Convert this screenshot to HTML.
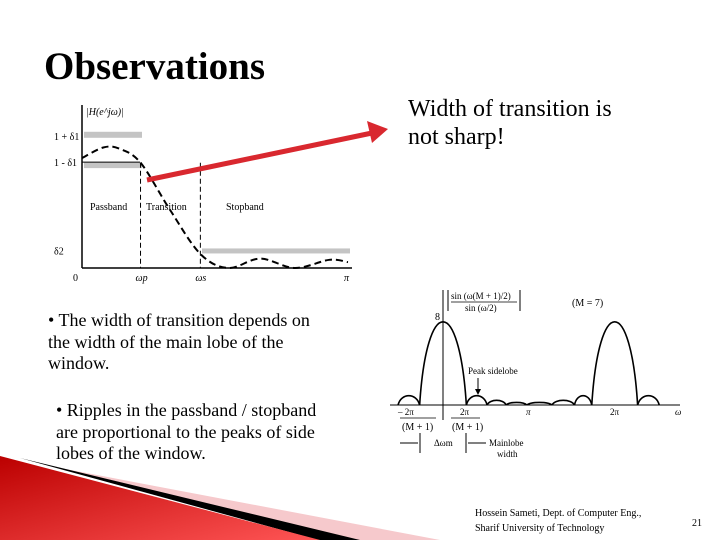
<!DOCTYPE html>
<html><head><meta charset="utf-8"><style>
body{margin:0;background:#fff}
#s{position:relative;width:720px;height:540px;overflow:hidden;background:#fff;font-family:"Liberation Serif",serif;color:#000}
.t{position:absolute;white-space:nowrap}
</style></head><body>
<div id="s">
<svg width="720" height="540" style="position:absolute;left:0;top:0">
 <defs><linearGradient id="rg" x1="0" y1="0" x2="1" y2="1"><stop offset="0" stop-color="#b00"/><stop offset="1" stop-color="#f55"/></linearGradient></defs>
 <g>
  <polygon points="60,468 440,540 330,540" fill="#f6c9cc"/>
  <polygon points="20,458 360,540 318,540" fill="#000"/>
  <polygon points="0,456 320,540 0,540" fill="url(#rg)"/>
 </g>
 <g id="top"></g>
 <g id="bot"></g>
 <g>
  <line x1="147" y1="180" x2="372" y2="133" stroke="#d9282f" stroke-width="5"/>
  <polygon points="388,129 367,121 372,143" fill="#d9282f"/>
 </g>
</svg>
<div class="t" style="left:44px;top:44px;font-size:39px;font-weight:bold">Observations</div>
<div class="t" style="left:408px;top:95px;font-size:24px;line-height:28px">Width of transition is<br>not sharp!</div>
<div class="t" style="left:48px;top:310px;font-size:18px;line-height:21.5px">• The width of transition depends on<br>the width of the main lobe of the<br>window.</div>
<div class="t" style="left:56px;top:400px;font-size:18px;line-height:21.5px">• Ripples in the passband / stopband<br>are proportional to the peaks of side<br>lobes of the window.</div>
<div class="t" style="left:475px;top:506px;font-size:10px;line-height:15px">Hossein Sameti, Dept. of Computer Eng.,<br>Sharif University of Technology</div>
<div class="t" style="left:692px;top:518px;font-size:10px">21</div>
</div>
<script>
// top chart data (x in units of pi, y magnitude)
const respX=[0,0.08,0.14,0.22,0.33,0.445,0.55,0.67,0.8,0.93,1.0];
const respY=[0.94,1.03,1.02,0.9,0.5,0.12,0.0,0.08,0.0,0.07,0.05];
const bandLabels=["Passband","Transition","Stopband"];
const yTickLabels=["1 + δ1","1 - δ1","δ2"];
const yTickVals=[1.13,0.905,0.15];
// bottom chart data (x in units of pi, height of lobes)
const lobeStart=[-0.52,-0.27,0.27,0.51,0.73,0.97,1.26,1.52,1.72,2.25];
const lobeEnd=[-0.27,0.27,0.51,0.73,0.97,1.26,1.52,1.72,2.25,2.5];
const lobeH=[0.9,8,0.9,0.45,0.25,0.25,0.45,0.9,8,0.9];
const NS="http://www.w3.org/2000/svg";
function mk(p,tag,at,txt){const e=document.createElementNS(NS,tag);for(const k in at)e.setAttribute(k,at[k]);if(txt!==undefined)e.textContent=txt;p.appendChild(e);return e;}
// top
const T=document.getElementById('top');
const tx=v=>82+v*266;
function tyy(v){return 268-v*117;}
let e;
e=mk(T,'line',{x1:82,y1:105,x2:82,y2:268,stroke:'#000','stroke-width':1.5});

e=mk(T,'line',{x1:82,y1:268,x2:352,y2:268,stroke:'#000','stroke-width':1.5});

mk(T,'text',{x:86,y:115,'font-size':10,'font-style':'italic','font-family':'Liberation Serif'},'|H(e^jω)|');
yTickVals.forEach((v,i)=>{e=mk(T,'text',{x:54,y:tyy(v)+4,'font-size':10,'font-family':'Liberation Serif'},yTickLabels[i]);
});
// tolerance bands
[[82,140,tyy(1.13)-4,6],[82,140,tyy(0.905),6],[200,348,tyy(0.15)-2,5]].forEach(b=>{e=mk(T,'rect',{x:b[0]+2,y:b[2],width:b[1]-b[0],height:b[3],fill:'#c4c4c4'});
});
mk(T,'line',{x1:82,y1:tyy(0.905),x2:140,y2:tyy(0.905),stroke:'#000'});
[[0.22,'ωp'],[0.445,'ωs']].forEach(d=>{mk(T,'line',{x1:tx(d[0]),y1:tyy(0.9),x2:tx(d[0]),y2:268,stroke:'#000','stroke-dasharray':'5,3'});
mk(T,'text',{x:tx(d[0])-5,y:281,'font-size':10,'font-style':'italic','font-family':'Liberation Serif'},d[1]);});
mk(T,'text',{x:73,y:281,'font-size':10,'font-family':'Liberation Serif'},'0');
mk(T,'text',{x:344,y:281,'font-size':10,'font-style':'italic','font-family':'Liberation Serif'},'π');
[[90,'Passband'],[146,'Transition'],[226,'Stopband']].forEach((b,i)=>{e=mk(T,'text',{x:b[0],y:210,'font-size':10,'font-family':'Liberation Serif'},bandLabels[i]);
});
function smooth(xs,ys){let p='M'+xs[0]+','+ys[0];for(let i=0;i<xs.length-1;i++){const x0=xs[Math.max(i-1,0)],y0=ys[Math.max(i-1,0)],x3=xs[Math.min(i+2,xs.length-1)],y3=ys[Math.min(i+2,xs.length-1)];
p+=' C'+(xs[i]+(xs[i+1]-x0)/6)+','+(ys[i]+(ys[i+1]-y0)/6)+' '+(xs[i+1]-(x3-xs[i])/6)+','+(ys[i+1]-(y3-ys[i])/6)+' '+xs[i+1]+','+ys[i+1];}return p;}
e=mk(T,'path',{d:smooth(respX.map(tx),respY.map(tyy)),fill:'none',stroke:'#000','stroke-width':2,'stroke-dasharray':'7,4'});

// bottom
const B=document.getElementById('bot');
const bx=v=>443+v*86.5, by=v=>405-v*10.4;
e=mk(B,'line',{x1:443,y1:290,x2:443,y2:420,stroke:'#000'});

e=mk(B,'line',{x1:390,y1:405,x2:680,y2:405,stroke:'#000'});

lobeStart.forEach((s,i)=>{const a=bx(s),b=bx(lobeEnd[i]),h=by(lobeH[i]);const m=(a+b)/2;const c=(h-0.25*405)/0.75;
e=mk(B,'path',{d:`M${a},405 C${a+(m-a)*0.3},${c} ${b-(b-m)*0.3},${c} ${b},405`,fill:'none',stroke:'#000','stroke-width':1.6});
});
mk(B,'text',{x:435,y:320,'font-size':10,'font-family':'Liberation Serif'},'8');
mk(B,'line',{x1:448,y1:290,x2:448,y2:311,stroke:'#000'});mk(B,'line',{x1:520,y1:290,x2:520,y2:311,stroke:'#000'});
mk(B,'text',{x:451,y:299,'font-size':9,'font-family':'Liberation Serif'},'sin (ω(M + 1)/2)');
mk(B,'line',{x1:451,y1:302,x2:517,y2:302,stroke:'#000','stroke-width':0.7});
mk(B,'text',{x:465,y:311,'font-size':9,'font-family':'Liberation Serif'},'sin (ω/2)');
mk(B,'text',{x:572,y:306,'font-size':10,'font-family':'Liberation Serif'},'(M = 7)');
mk(B,'text',{x:468,y:374,'font-size':9,'font-family':'Liberation Serif'},'Peak sidelobe');
mk(B,'line',{x1:478,y1:378,x2:478,y2:392,stroke:'#000'});mk(B,'polygon',{points:'475,389 481,389 478,395',fill:'#000'});
mk(B,'text',{x:398,y:415,'font-size':9,'font-family':'Liberation Serif'},'– 2π');
mk(B,'line',{x1:400,y1:418,x2:436,y2:418,stroke:'#000','stroke-width':0.7});
mk(B,'text',{x:402,y:430,'font-size':10,'font-family':'Liberation Serif'},'(M + 1)');
mk(B,'text',{x:460,y:415,'font-size':9,'font-family':'Liberation Serif'},'2π');
mk(B,'line',{x1:451,y1:418,x2:480,y2:418,stroke:'#000','stroke-width':0.7});
mk(B,'text',{x:452,y:430,'font-size':10,'font-family':'Liberation Serif'},'(M + 1)');
mk(B,'text',{x:526,y:415,'font-size':9,'font-style':'italic','font-family':'Liberation Serif'},'π');
mk(B,'text',{x:610,y:415,'font-size':9,'font-family':'Liberation Serif'},'2π');
mk(B,'text',{x:675,y:415,'font-size':9,'font-style':'italic','font-family':'Liberation Serif'},'ω');
mk(B,'line',{x1:420,y1:433,x2:420,y2:453,stroke:'#000'});mk(B,'line',{x1:466,y1:433,x2:466,y2:453,stroke:'#000'});
mk(B,'line',{x1:400,y1:443,x2:418,y2:443,stroke:'#000'});mk(B,'line',{x1:468,y1:443,x2:486,y2:443,stroke:'#000'});
mk(B,'text',{x:434,y:446,'font-size':9,'font-family':'Liberation Serif'},'Δωm');
mk(B,'text',{x:489,y:446,'font-size':9,'font-family':'Liberation Serif'},'Mainlobe');
mk(B,'text',{x:497,y:457,'font-size':9,'font-family':'Liberation Serif'},'width');
</script>
</body></html>
